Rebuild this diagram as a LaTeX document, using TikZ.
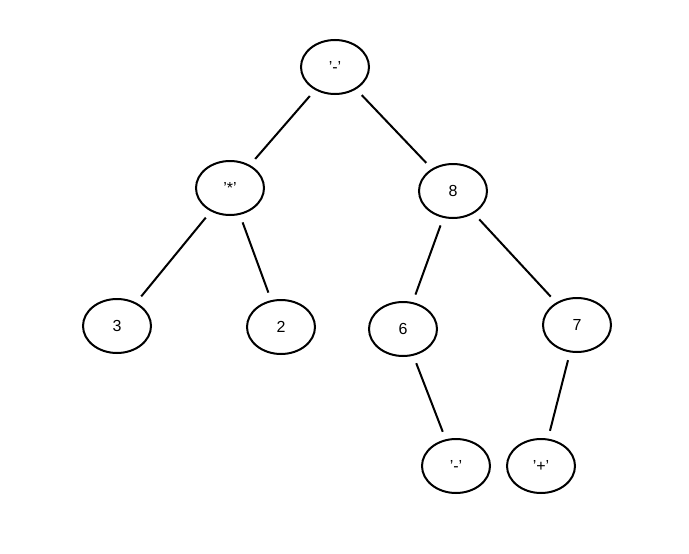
\documentclass[tikz,border=0pt]{standalone}
\usepackage{fontspec}
\setmainfont{Liberation Sans}
\usetikzlibrary{shapes.geometric}

\begin{document}
\begin{tikzpicture}[x=1pt,y=-1pt,line width=2pt,
    tree node/.style={ellipse,draw,minimum width=68pt,minimum height=54pt,font=\fontsize{16}{18}\selectfont},
    link/.style={shorten >=8pt,shorten <=8pt}
    ]
  \useasboundingbox (0,0) rectangle (689,554);

  \node[tree node] (minus)  at (335,67)  {'-'};
  \node[tree node] (times)  at (230,188) {'*'};
  \node[tree node] (eight)  at (453,191) {8};
  \node[tree node] (three)  at (117,326) {3};
  \node[tree node] (two)    at (281,327) {2};
  \node[tree node] (six)    at (403,329) {6};
  \node[tree node] (seven)  at (577,325) {7};
  \node[tree node] (minus2) at (456,466) {'-'};
  \node[tree node] (plus)   at (541,466) {'+'};

  \path[draw] (minus) edge[link] (times)
        (minus) edge[link] (eight)
        (times) edge[link] (three)
        (times) edge[link] (two)
        (eight) edge[link] (six)
        (eight) edge[link] (seven)
        (six)   edge[link] (minus2)
        (seven) edge[link] (plus);

\end{tikzpicture}
\end{document}
